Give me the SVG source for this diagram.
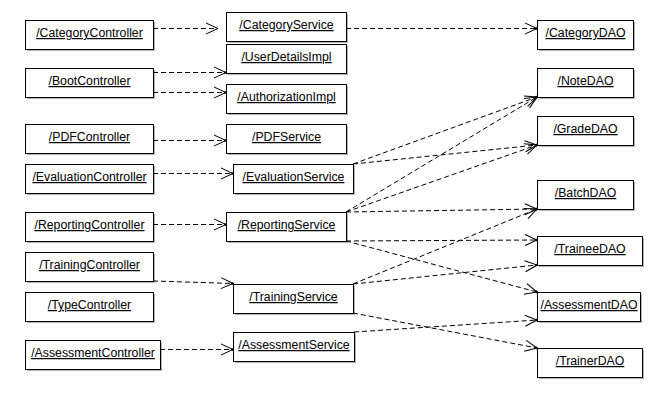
<svg xmlns="http://www.w3.org/2000/svg" width="664" height="400" viewBox="0 0 664 400">
<defs>
<style>
.sh{fill:#b4b4b4;}
.bx{fill:#ffffff;stroke:#000000;stroke-width:1;}
.t{font-family:"Liberation Sans",Arial,sans-serif;font-size:12.3px;fill:#000000;text-anchor:middle;text-decoration:underline;}
.c{fill:none;stroke:#000000;stroke-width:1;stroke-dasharray:5,3;}
</style>
<marker id="ah" markerUnits="userSpaceOnUse" markerWidth="16" markerHeight="14" refX="13" refY="7" orient="auto" overflow="visible">
<path d="M1,1.5 L13,7 L1,12.5" fill="none" stroke="#000000" stroke-width="1" stroke-dasharray="none"/>
<circle cx="12.5" cy="7" r="1.3" fill="#000000"/>
</marker>
<marker id="ah2" markerUnits="userSpaceOnUse" markerWidth="16" markerHeight="14" refX="13" refY="7" orient="auto" overflow="visible">
<path d="M1,1.5 L13,7 L1,12.5" fill="none" stroke="#000000" stroke-width="1" stroke-dasharray="none"/>
</marker>
</defs>
<rect width="664" height="400" fill="#ffffff"/>

<g id="CategoryController"><rect class="sh" x="27" y="22" width="128" height="29"/><rect class="bx" x="25.5" y="20.5" width="128" height="29"/><text class="t" x="89.5" y="37">/CategoryController</text></g>
<g id="BootController"><rect class="sh" x="27" y="70" width="128" height="29"/><rect class="bx" x="25.5" y="68.5" width="128" height="29"/><text class="t" x="89.5" y="85">/BootController</text></g>
<g id="PDFController"><rect class="sh" x="27" y="126" width="128" height="29"/><rect class="bx" x="25.5" y="124.5" width="128" height="29"/><text class="t" x="89.5" y="141">/PDFController</text></g>
<g id="EvaluationController"><rect class="sh" x="27" y="166" width="128" height="29"/><rect class="bx" x="25.5" y="164.5" width="128" height="29"/><text class="t" x="89.5" y="181">/EvaluationController</text></g>
<g id="ReportingController"><rect class="sh" x="27" y="214" width="128" height="29"/><rect class="bx" x="25.5" y="212.5" width="128" height="29"/><text class="t" x="89.5" y="229">/ReportingController</text></g>
<g id="TrainingController"><rect class="sh" x="27" y="254" width="128" height="29"/><rect class="bx" x="25.5" y="252.5" width="128" height="29"/><text class="t" x="89.5" y="269">/TrainingController</text></g>
<g id="TypeController"><rect class="sh" x="27" y="294" width="128" height="29"/><rect class="bx" x="25.5" y="292.5" width="128" height="29"/><text class="t" x="89.5" y="309">/TypeController</text></g>
<g id="AssessmentController"><rect class="sh" x="27" y="342" width="135" height="29"/><rect class="bx" x="25.5" y="340.5" width="135" height="29"/><text class="t" x="93" y="357">/AssessmentController</text></g>

<g id="CategoryService"><rect class="sh" x="228" y="14" width="120" height="29"/><rect class="bx" x="226.5" y="12.5" width="120" height="29"/><text class="t" x="286.5" y="29">/CategoryService</text></g>
<g id="UserDetailsImpl"><rect class="sh" x="228" y="46" width="120" height="29"/><rect class="bx" x="226.5" y="44.5" width="120" height="29"/><text class="t" x="286.5" y="61">/UserDetailsImpl</text></g>
<g id="AuthorizationImpl"><rect class="sh" x="228" y="86" width="120" height="29"/><rect class="bx" x="226.5" y="84.5" width="120" height="29"/><text class="t" x="286.5" y="101">/AuthorizationImpl</text></g>
<g id="PDFService"><rect class="sh" x="228" y="126" width="120" height="29"/><rect class="bx" x="226.5" y="124.5" width="120" height="29"/><text class="t" x="286.5" y="141">/PDFService</text></g>
<g id="EvaluationService"><rect class="sh" x="235" y="166" width="120" height="29"/><rect class="bx" x="233.5" y="164.5" width="120" height="29"/><text class="t" x="293.5" y="181">/EvaluationService</text></g>
<g id="ReportingService"><rect class="sh" x="228" y="214" width="120" height="29"/><rect class="bx" x="226.5" y="212.5" width="120" height="29"/><text class="t" x="286.5" y="229">/ReportingService</text></g>
<g id="TrainingService"><rect class="sh" x="235" y="286" width="120" height="29"/><rect class="bx" x="233.5" y="284.5" width="120" height="29"/><text class="t" x="293.5" y="301">/TrainingService</text></g>
<g id="AssessmentService"><rect class="sh" x="235" y="334" width="121" height="29"/><rect class="bx" x="233.5" y="332.5" width="121" height="29"/><text class="t" x="294" y="349">/AssessmentService</text></g>

<g id="CategoryDAO"><rect class="sh" x="539" y="22" width="96" height="29"/><rect class="bx" x="537.5" y="20.5" width="96" height="29"/><text class="t" x="585.5" y="37">/CategoryDAO</text></g>
<g id="NoteDAO"><rect class="sh" x="539" y="70" width="96" height="29"/><rect class="bx" x="537.5" y="68.5" width="96" height="29"/><text class="t" x="585.5" y="85">/NoteDAO</text></g>
<g id="GradeDAO"><rect class="sh" x="539" y="118" width="96" height="29"/><rect class="bx" x="537.5" y="116.5" width="96" height="29"/><text class="t" x="585.5" y="133">/GradeDAO</text></g>
<g id="BatchDAO"><rect class="sh" x="539" y="182" width="96" height="29"/><rect class="bx" x="537.5" y="180.5" width="96" height="29"/><text class="t" x="585.5" y="197">/BatchDAO</text></g>
<g id="TraineeDAO"><rect class="sh" x="539" y="238" width="105" height="29"/><rect class="bx" x="537.5" y="236.5" width="105" height="29"/><text class="t" x="590" y="253">/TraineeDAO</text></g>
<g id="AssessmentDAO"><rect class="sh" x="539" y="294" width="103" height="29"/><rect class="bx" x="537.5" y="292.5" width="103" height="29"/><text class="t" x="589" y="309">/AssessmentDAO</text></g>
<g id="TrainerDAO"><rect class="sh" x="539" y="350" width="105" height="29"/><rect class="bx" x="537.5" y="348.5" width="105" height="29"/><text class="t" x="590" y="365">/TrainerDAO</text></g>

<g id="connectors">
<line class="c" x1="153" y1="28.5" x2="218" y2="28.5" marker-end="url(#ah2)"/>
<line class="c" x1="153" y1="72.5" x2="226" y2="72.5" marker-end="url(#ah)"/>
<line class="c" x1="153" y1="92.5" x2="226" y2="92.5" marker-end="url(#ah)"/>
<line class="c" x1="153" y1="140.5" x2="226" y2="140.5" marker-end="url(#ah)"/>
<line class="c" x1="153" y1="173.5" x2="233" y2="173.5" marker-end="url(#ah)"/>
<line class="c" x1="153" y1="224.5" x2="226" y2="224.5" marker-end="url(#ah)"/>
<line class="c" x1="153" y1="281" x2="233" y2="283.5" marker-end="url(#ah)"/>
<line class="c" x1="160" y1="349.5" x2="233" y2="349.5" marker-end="url(#ah)"/>
<line class="c" x1="346" y1="28.5" x2="537" y2="28.5" marker-end="url(#ah)"/>
<line class="c" x1="353" y1="164" x2="537" y2="97" marker-end="url(#ah)"/>
<line class="c" x1="353" y1="164" x2="537" y2="145" marker-end="url(#ah)"/>
<line class="c" x1="346" y1="212" x2="537" y2="97" marker-end="url(#ah)"/>
<line class="c" x1="346" y1="212" x2="537" y2="145" marker-end="url(#ah)"/>
<line class="c" x1="346" y1="212" x2="537" y2="209" marker-end="url(#ah)"/>
<line class="c" x1="346" y1="241" x2="537" y2="240" marker-end="url(#ah)"/>
<line class="c" x1="346" y1="241" x2="537" y2="292" marker-end="url(#ah)"/>
<line class="c" x1="353" y1="284" x2="537" y2="209" marker-end="url(#ah)"/>
<line class="c" x1="353" y1="284" x2="537" y2="265" marker-end="url(#ah)"/>
<line class="c" x1="353" y1="313" x2="537" y2="348" marker-end="url(#ah)"/>
<line class="c" x1="354" y1="332" x2="537" y2="320" marker-end="url(#ah)"/>
</g>
</svg>
